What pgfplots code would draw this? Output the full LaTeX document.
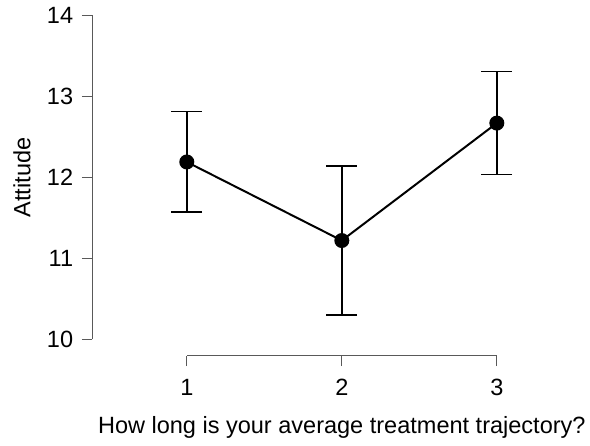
\documentclass[border=0pt]{standalone}
\usepackage{pgfplots}
\pgfplotsset{compat=1.18}
\usepackage{fontspec}
\setmainfont{Liberation Sans}
\begin{document}
\begin{tikzpicture}
\begin{axis}[
  x=117pt, y=61.125pt,
  xmin=0.391, xmax=3.577,
  ymin=9.80, ymax=14.19,
  clip=false,
  axis line style={draw=none},
  tick pos=left,
  tick align=outside,
  major tick length=8pt,
  tick style={draw=black!65, line width=0.8pt},
  xtick={1,2,3},
  ytick={10,11,12,13,14},
  /pgf/number format/assume math mode=true,
  ticklabel style={font=\fontsize{17.75}{20}\selectfont},
  yticklabel style={xshift=-3pt},
  xticklabel style={yshift=-6.5pt},
  xlabel={How long is your average treatment trajectory?},
  ylabel={Attitude},
  label style={font=\fontsize{17.75}{20}\selectfont},
  xlabel style={at={(axis cs:2,8.912)}, anchor=center},
  ylabel style={at={(axis cs:-0.064,12)}, anchor=center},
]
\draw[black!65, line width=0.8pt] (axis cs:0.391,10) -- (axis cs:0.391,14);
\draw[black!65, line width=0.8pt] (axis cs:1,9.80) -- (axis cs:3,9.80);
\addplot[black, line width=1.5pt, mark=*, mark size=4.9pt,
  error bars/.cd, y dir=both, y explicit,
  error bar style={line width=1.1pt, black},
  error mark options={rotate=90, mark size=11.6pt, line width=1.1pt, black}]
  table[x=x, y=y, y error=e] {
x y e
1 12.19 0.62
2 11.22 0.92
3 12.67 0.635
};
\path (axis cs:-0.205,14.188) -- (axis cs:3.577,8.691);
\end{axis}
\end{tikzpicture}
\end{document}
